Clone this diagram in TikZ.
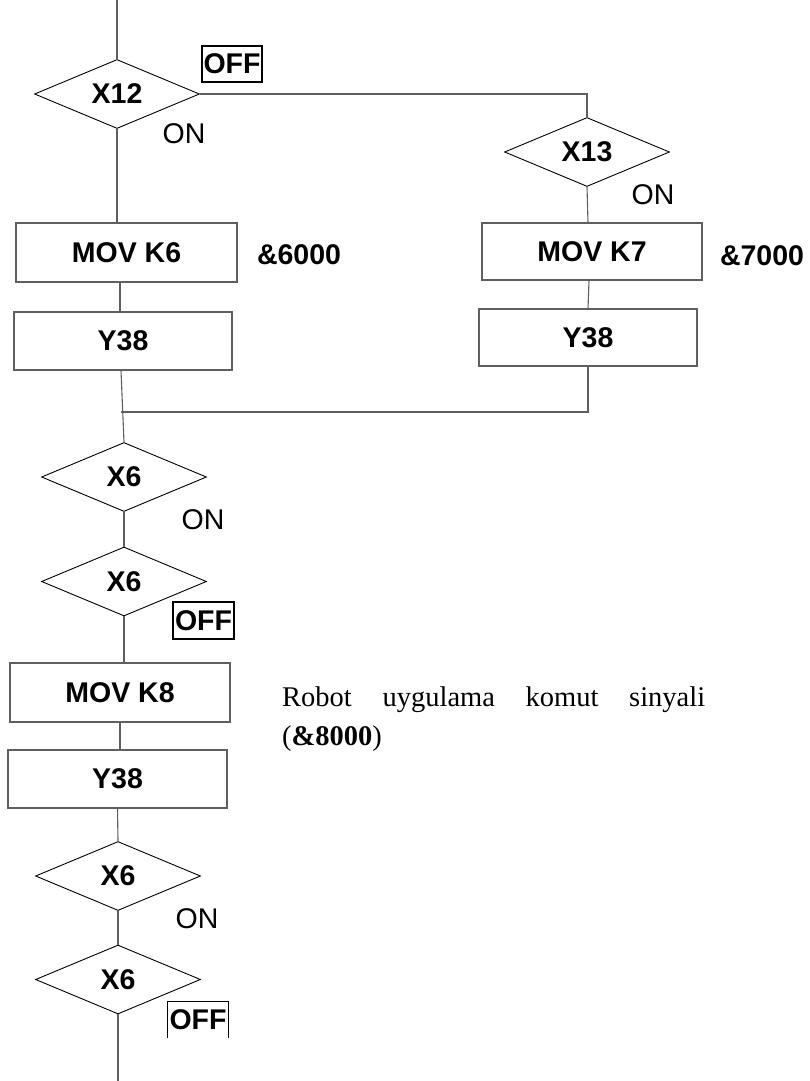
\documentclass[tikz,border=0pt]{standalone}
\usepackage{fontspec}
\setmainfont{Liberation Serif}
\newfontfamily\arialfont{Liberation Sans}
\usetikzlibrary{shapes.geometric}
\definecolor{linegray}{RGB}{95,95,95}
\begin{document}
\begin{tikzpicture}[x=1pt,y=-1pt,
  every node/.style={font=\arialfont\fontsize{28.5}{33}\selectfont},
  dec/.style={diamond, draw=black, line width=0.9pt, aspect=2.4,
    minimum width=165pt, minimum height=69pt, inner sep=0pt,
    font=\arialfont\bfseries\fontsize{28.5}{33}\selectfont},
  box/.style={rectangle, draw=linegray, line width=1.1pt, inner sep=0pt,
    font=\arialfont\bfseries\fontsize{28.5}{33}\selectfont},
  link/.style={draw=linegray, line width=1.1pt},
  onlabel/.style={inner sep=0pt},
  offbox/.style={draw=black, line width=1.4pt, inner sep=0pt,
    minimum width=60pt, minimum height=36pt,
    font=\arialfont\bfseries\fontsize{28.5}{33}\selectfont},
  value/.style={inner sep=0pt, font=\arialfont\bfseries\fontsize{28.5}{33}\selectfont}]
\useasboundingbox[fill=white] (0,0) rectangle (810,1081);

% decision and action nodes
\node[dec] (x12) at (117,94) {X12};
\node[dec] (x13) at (587,152) {X13};
\node[box, minimum width=221pt, minimum height=59pt] (k6) at (126.5,252.5) {MOV K6};
\node[box, minimum width=218pt, minimum height=58pt] (y38a) at (123,341) {Y38};
\node[box, minimum width=220pt, minimum height=57pt] (k7) at (592,251.5) {MOV K7};
\node[box, minimum width=218pt, minimum height=57pt] (y38b) at (588,337.5) {Y38};
\node[dec] (x6a) at (124,477) {X6};
\node[dec] (x6b) at (124,581.5) {X6};
\node[box, minimum width=220pt, minimum height=59pt] (k8) at (120,692.5) {MOV K8};
\node[box, minimum width=219pt, minimum height=58pt] (y38c) at (117.5,779) {Y38};
\node[dec] (x6c) at (118,876) {X6};
\node[dec] (x6d) at (118,979.5) {X6};

\coordinate (start) at (117,0);
\coordinate (end) at (118,1081);
\coordinate (j) at (121,412);

% connectors
\draw[link] (start) -- (x12.north);
\draw[link] (x12.south) -- (x12.south |- k6.north);
\draw[link] ([xshift=-6.5pt]k6.south) -- ([xshift=-3pt]y38a.north);
\draw[link] ([xshift=-2pt]y38a.south) -- (x6a.north);
\draw[link] (x12.east) -| (x13.north);
\draw[link] (x13.south) -- ([xshift=-4pt]k7.north);
\draw[link] ([xshift=-3pt]k7.south) -- (y38b.north);
\draw[link] (y38b.south) |- (j);
\draw[link] (x6a.south) -- (x6b.north);
\draw[link] (x6b.south) -- ([xshift=4pt]k8.north);
\draw[link] (k8.south) -- ([xshift=2.5pt]y38c.north);
\draw[link] (y38c.south) -- (x6c.north);
\draw[link] (x6c.south) -- (x6d.north);
\draw[link] (x6d.south) -- (end);

% condition labels
\node[onlabel] (on1) at (184,134) {ON};
\node[onlabel] (on2) at (653,195) {ON};
\node[onlabel] (on3) at (203,520) {ON};
\node[onlabel] (on4) at (197,919) {ON};
\node[offbox] (off1) at (232,64) {OFF};
\node[offbox, minimum width=61pt, minimum height=37pt] (off2) at (203.5,620.5) {OFF};
\node[offbox, draw=none, minimum height=35pt] (off3) at (198,1019.5) {OFF};
\draw[black, line width=1.4pt] (off3.south west) -- (off3.north west) -- (off3.north east) -- (off3.south east);

% register values
\node[value] (v6) at (299,255) {\&6000};
\node[value] (v7) at (762,256) {\&7000};

% note
\node[anchor=base west, text width=423pt, align=justify, inner sep=0pt,
  font=\rmfamily\fontsize{28.5}{39}\selectfont] (note) at (282,706)
  {Robot uygulama komut sinyali\linebreak(\textbf{\&8000})};
\end{tikzpicture}
\end{document}
